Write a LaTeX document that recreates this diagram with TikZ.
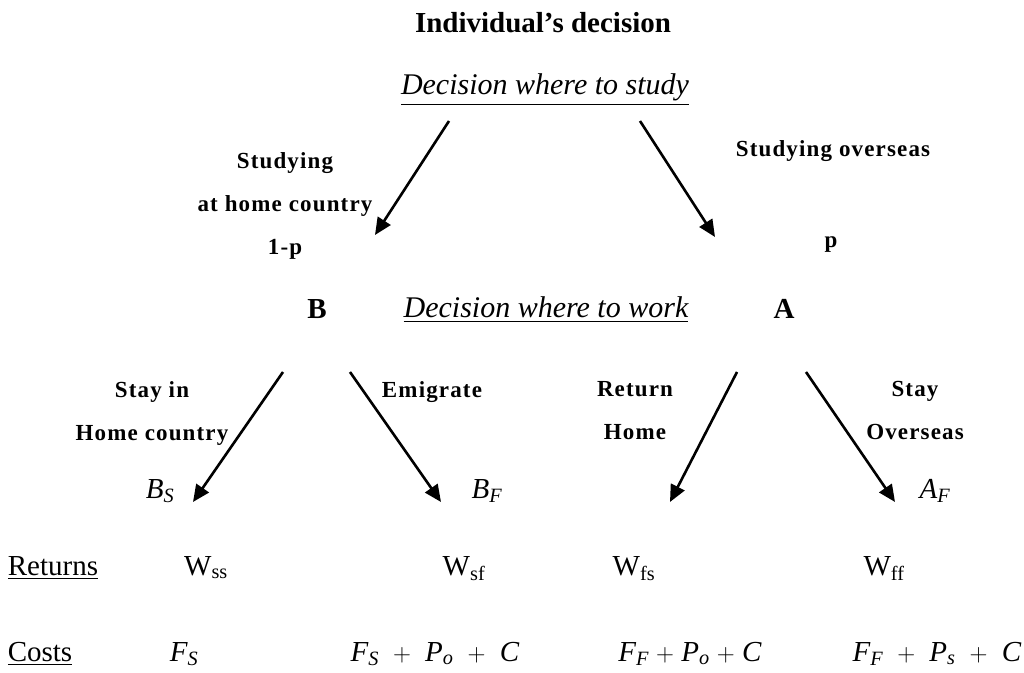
\documentclass[tikz,border=0pt]{standalone}
\usepackage{amsmath}
\usepackage{fontspec}
\setmainfont{Liberation Serif}
\newfontfamily\spacedbf[LetterSpace=5]{Liberation Serif}
\usetikzlibrary{arrows.meta,positioning}

\newcommand{\itsub}[2]{$\textit{#1}_{\textit{#2}}$}
\newcommand{\rmsub}[2]{$\text{#1}_{\text{#2}}$}

\begin{document}
\begin{tikzpicture}[x=1pt,y=1pt,
    title/.style={font=\fontsize{29}{34}\selectfont\bfseries,anchor=base,inner sep=0pt},
    question/.style={font=\fontsize{30}{34}\selectfont\itshape,anchor=base,inner sep=0pt},
    choice/.style={font=\fontsize{23}{43}\selectfont\spacedbf\bfseries,align=center,anchor=north,inner sep=0pt},
    val/.style={font=\fontsize{29}{34}\selectfont,anchor=base,inner sep=0pt},
    branch/.style={line width=2.6pt,-{Triangle[length=17pt,width=15pt]}}]
    \useasboundingbox (0,0) rectangle (1024,672);

    % Title and first decision
    \node[title] (title) at (543,639) {Individual's decision};
    \node[question] (studyq) at (545,577) {\underline{Decision where to study}};
    \coordinate (homeS) at (449,551);
    \coordinate (homeE) at (375,437);
    \coordinate (overS) at (640,551);
    \coordinate (overE) at (715,435);
    \draw[branch] (homeS) -- (homeE);
    \draw[branch] (overS) -- (overE);
    \node[choice] (home) at (285,520) {Studying\\at home country\\1-p};
    \node[choice] (over) at (833,532) {Studying overseas};
    \node[choice] (prob) at (831,436) {p};

    % Second decision
    \node[title] (B) at (317,353) {B};
    \node[title] (A) at (784,353) {A};
    \node[question] (workq) at (546,354) {\underline{Decision where to work}};
    \coordinate (bsS) at (283,300);
    \coordinate (bsE) at (193,170);
    \coordinate (bfS) at (350,300);
    \coordinate (bfE) at (441,170);
    \coordinate (asS) at (737,300);
    \coordinate (asE) at (670,170);
    \coordinate (afS) at (806,300);
    \coordinate (afE) at (895,170);
    \draw[branch] (bsS) -- (bsE);
    \draw[branch] (bfS) -- (bfE);
    \draw[branch] (asS) -- (asE);
    \draw[branch] (afS) -- (afE);
    \node[choice] (stayhome) at (152,291) {Stay in\\Home country};
    \node[choice] (emigrate) at (432,291) {Emigrate};
    \node[choice] (return) at (635,291) {Return\\Home};
    \node[choice] (stayover) at (915,291) {Stay\\Overseas};
    \node[val] (BS) at (160,174) {\itsub{B}{S}};
    \node[val] (BF) at (487,174) {\itsub{B}{F}};
    \node[val] (AF) at (935,174) {\itsub{A}{F}};

    % Returns and costs
    \node[val] (returns) at (53,97) {\underline{Returns}};
    \node[val] (wss) at (206,97) {\rmsub{W}{ss}};
    \node[val] (wsf) at (464,97) {\rmsub{W}{sf}};
    \node[val] (wfs) at (634,97) {\rmsub{W}{fs}};
    \node[val] (wff) at (884,97) {\rmsub{W}{ff}};
    \node[val] (costs) at (40,11) {\underline{Costs}};
    \node[val] (css) at (184,11) {\itsub{F}{S}};
    \node[val] (csf) at (435,11) {\itsub{F}{S} $\;+\;$ \itsub{P}{o} $\;+\;$ \textit{C}};
    \node[val] (cfs) at (690,11) {\itsub{F}{F} $+$ \itsub{P}{o} $+$ \textit{C}};
    \node[val] (cff) at (937,11) {\itsub{F}{F} $\;+\;$ \itsub{P}{s} $\;+\;$ \textit{C}};
\end{tikzpicture}
\end{document}
